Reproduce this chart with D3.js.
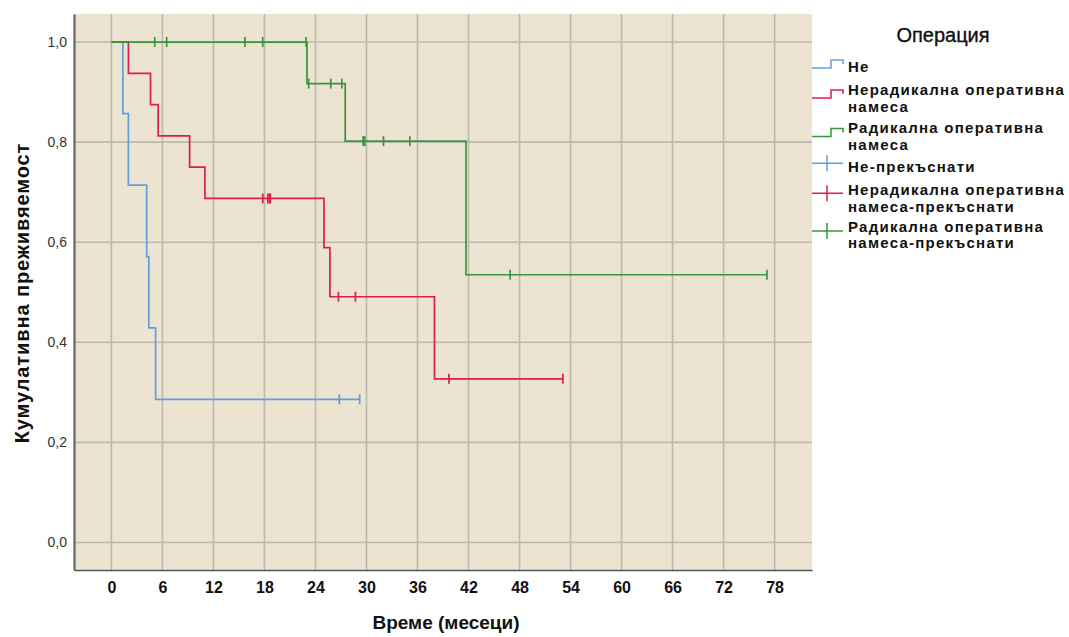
<!DOCTYPE html>
<html>
<head>
<meta charset="utf-8">
<script src="https://cdn.jsdelivr.net/npm/d3@7"></script>
<style>
  html, body { margin: 0; padding: 0; background: #fff; }
  svg { display: block; }
</style>
</head>
<body>
<svg id="chart" width="1069" height="637"></svg>
<script>
// survival steps: [time, cumulative survival]
const xTicks = [0, 6, 12, 18, 24, 30, 36, 42, 48, 54, 60, 66, 72, 78];
const yTicks = [0, 0.2, 0.4, 0.6, 0.8, 1.0];

const stepsNe = [[0, 1], [1.35, 0.857], [2.0, 0.714], [4.15, 0.571], [4.4, 0.429], [5.2, 0.286], [29.2, 0.286]];
const censNe = [[26.8, 0.286], [29.2, 0.286]];

const stepsNerad = [[0, 1], [2.0, 0.9375], [4.6, 0.875], [5.5, 0.8125], [9.2, 0.75], [11.0, 0.6875],
  [25.0, 0.589], [25.7, 0.491], [38.0, 0.327], [53.1, 0.327]];
const censNerad = [[17.8, 0.6875], [18.4, 0.6875], [18.6, 0.6875], [18.7, 0.6875],
  [26.7, 0.491], [28.7, 0.491], [39.7, 0.327], [53.1, 0.327]];

const stepsRad = [[0, 1], [23.0, 0.917], [27.5, 0.802], [41.7, 0.535], [77.1, 0.535]];
const censRad = [[5.1, 1], [6.5, 1], [15.7, 1], [17.8, 1], [22.9, 1],
  [23.2, 0.917], [25.8, 0.917], [27.1, 0.917],
  [29.6, 0.802], [29.8, 0.802], [32.0, 0.802], [35.1, 0.802],
  [46.9, 0.535], [77.1, 0.535]];

const groups = [
  { name: 'Не', steps: stepsNe, cens: censNe, c: '#5f9fe0' },
  { name: 'Нерадикална оперативна намеса', steps: stepsNerad, cens: censNerad, c: '#dc1f48' },
  { name: 'Радикална оперативна намеса', steps: stepsRad, cens: censRad, c: '#3a963a' },
];

const legendLines = [
  ['Не'], ['Нерадикална оперативна', 'намеса'], ['Радикална оперативна', 'намеса'],
  ['Не-прекъснати'], ['Нерадикална оперативна', 'намеса-прекъснати'], ['Радикална оперативна', 'намеса-прекъснати'],
];

const L = 74, R = 812, T = 14, B = 570;
const svg = d3.select('#chart');

const x = d3.scaleLinear().domain([-4.4, 82.4]).range([L, R]);
const y = d3.scaleLinear().domain([-0.055, 1.056]).range([B, T]);

svg.append('rect').attr('x', L).attr('y', T).attr('width', R - L).attr('height', B - T).attr('fill', '#ece4d1');

// grid
const gG = svg.append('g').attr('stroke', '#bab8b0').attr('stroke-width', 1.6);
gG.selectAll('.vx').data(xTicks).join('line')
  .attr('x1', d => x(d)).attr('x2', d => x(d)).attr('y1', T).attr('y2', B);
gG.selectAll('.hy').data(yTicks).join('line')
  .attr('y1', d => y(d)).attr('y2', d => y(d)).attr('x1', L).attr('x2', R);

// axes
const ax = svg.append('g').attr('transform', `translate(0,${B})`)
  .call(d3.axisBottom(x).tickValues(xTicks).tickSize(0).tickPadding(12));
ax.select('.domain').attr('stroke', '#555').attr('stroke-width', 1.6);
ax.selectAll('text').attr('font-family', '"Liberation Sans Narrow","Arial Narrow","Liberation Sans",Arial,sans-serif')
  .attr('font-weight', 'bold').attr('font-size', 16).attr('fill', '#111');

const ay = svg.append('g').attr('transform', `translate(${L},0)`)
  .call(d3.axisLeft(y).tickValues(yTicks).tickSize(0).tickPadding(7).tickFormat(d => d3.format('.1f')(d).replace('.', ',')));
ay.select('.domain').attr('stroke', '#666').attr('stroke-width', 2.2);
ay.selectAll('text').attr('font-family', '"Liberation Sans Narrow","Arial Narrow","Liberation Sans",Arial,sans-serif')
  .attr('font-size', 14).attr('fill', '#333');

// curves
const line = d3.line().x(d => x(d[0])).y(d => y(d[1])).curve(d3.curveStepAfter);
groups.forEach(g => {
  svg.append('path').datum(g.steps).attr('d', line)
    .attr('fill', 'none').attr('stroke', g.c).attr('stroke-width', 1.7);
  svg.append('g').selectAll('line').data(g.cens).join('line')
    .attr('x1', d => x(d[0])).attr('x2', d => x(d[0]))
    .attr('y1', d => y(d[1]) - 5).attr('y2', d => y(d[1]) + 5)
    .attr('stroke', g.c).attr('stroke-width', 1.7);
});

// titles (the main title sits above the frame, only its descenders peek in)
svg.append('text').attr('x', 443).attr('y', -6).attr('text-anchor', 'middle')
  .attr('font-family', 'Arial,"Liberation Sans",sans-serif').attr('font-weight', 'bold').attr('font-size', 20)
  .text('Функции на преживяемост');

svg.append('text').attr('x', 446).attr('y', 629).attr('text-anchor', 'middle')
  .attr('font-family', '"Liberation Sans Narrow","Arial Narrow","Liberation Sans",Arial,sans-serif')
  .attr('font-weight', 'bold').attr('font-size', 19).attr('fill', '#111')
  .text('Време (месеци)');

svg.append('text').attr('transform', 'translate(29,293) rotate(-90)').attr('text-anchor', 'middle')
  .attr('font-family', 'Arial,"Liberation Sans",sans-serif')
  .attr('font-weight', 'bold').attr('font-size', 20).attr('letter-spacing', '0.9px').attr('fill', '#111')
  .text('Кумулативна преживяемост');

// legend
const lg = svg.append('g');
lg.append('text').attr('x', 943).attr('y', 42).attr('text-anchor', 'middle')
  .attr('font-family', 'Arial,"Liberation Sans",sans-serif').attr('font-size', 20)
  .attr('fill', '#111').attr('stroke', '#111').attr('stroke-width', 0.35)
  .text('Операция');

const baseY = [71.7, 95, 133.3, 171.7, 195, 231.7];
const symY = [68, 98, 136.5, 163.3, 193.3, 231];
const legC = [0, 1, 2, 0, 1, 2].map(i => groups[i].c);

legendLines.forEach((ls, i) => {
  const t = lg.append('text').attr('x', 848).attr('y', baseY[i])
    .attr('font-family', 'Arial,"Liberation Sans",sans-serif').attr('font-weight', 'bold')
    .attr('font-size', 15).attr('letter-spacing', '1.25px').attr('fill', '#111');
  ls.forEach((s, j) => t.append('tspan').attr('x', 848).attr('dy', j ? 16.7 : 0).text(s));
  const sy = symY[i], c = legC[i];
  if (i < 3) {
    lg.append('path').attr('d', `M812,${sy}H831V${sy - 8}H843V${sy - 4}`)
      .attr('fill', 'none').attr('stroke', c).attr('stroke-width', 1.5);
  } else {
    lg.append('path').attr('d', `M812,${sy}H843M827,${sy - 8}V${sy + 8}`)
      .attr('fill', 'none').attr('stroke', c).attr('stroke-width', 1.5);
  }
});
</script>
</body>
</html>
